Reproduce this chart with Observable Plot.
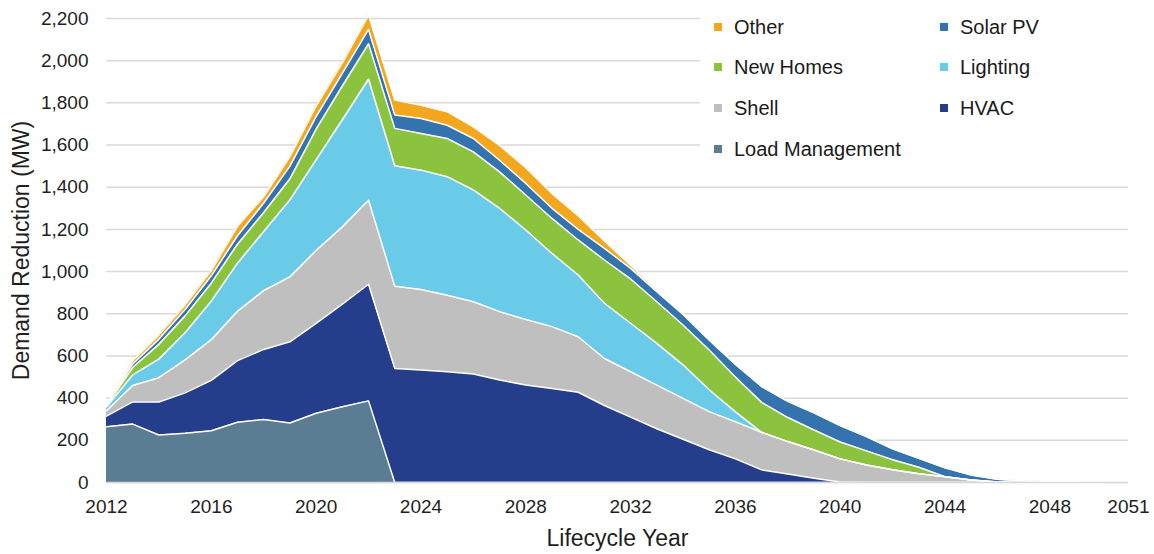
<!DOCTYPE html>
<html>
<head>
<meta charset="utf-8">
<script src="https://cdn.jsdelivr.net/npm/d3@7"></script>
<script src="https://cdn.jsdelivr.net/npm/@observablehq/plot@0.6"></script>
<style>
  body { margin: 0; background: #fff; }
  #wrap { position: relative; width: 1154px; height: 554px; font-family: "Liberation Sans", Arial, sans-serif; }
  #legend { position: absolute; left: 700px; top: 2px; width: 428px; height: 166px; background: #fff; }
  .item { position: absolute; height: 24px; display: flex; align-items: center; font-size: 20px; color: #1a1a1a; white-space: nowrap; }
  .sw { width: 8px; height: 8px; margin-right: 12px; flex: none; }
</style>
</head>
<body>
<div id="wrap"><div id="legend"></div></div>
<script>
// ---- Data (MW, per series, one value per year) ----
const years = [2012,2013,2014,2015,2016,2017,2018,2019,2020,2021,2022,2023,2024,2025,2026,2027,2028,2029,2030,2031,2032,2033,2034,2035,2036,2037,2038,2039,2040,2041,2042,2043,2044,2045,2046,2047,2048,2049,2050];

const loadManagement = [264,277,225,233,245,286,299,282,328,359,387, 0,0,0,0,0,0,0,0, 0,0,0,0,0,0,0,0,0,0, 0,0,0,0,0,0,0,0,0,0];
const hvac           = [51,105,157,192,239,292,332,385,426,487,553, 541,533,525,514,486,462,446,428, 365,310,255,205,155,112,60,40,20,2, 0,0,0,0,0,0,0,0,0,0];
const shell          = [25,78,115,156,193,234,279,308,346,366,398, 390,382,363,343,324,311,293,263, 223,215,207,194,181,176,178,154,134,110, 83,60,42,27,12,2,0,0,0,0];
const lighting       = [18,50,88,129,183,228,280,365,430,508,574, 571,566,562,530,490,424,347,293, 262,230,198,159,104,47,0,0,0,0, 0,0,0,0,0,0,0,0,0,0];
const newHomes       = [5,35,70,80,85,90,90,100,145,160,168, 177,174,181,181,173,166,166,166, 205,210,197,189,188,165,142,114,95,80, 67,48,30,0,0,0,0,0,0,0];
const solarPV        = [3,17,25,30,35,40,45,60,60,60,68, 63,71,63,63,55,55,48,50, 55,50,48,50,47,60,75,77,81,78, 68,52,43,43,24,13,8,4,2,0];
const other          = [2,16,20,22,25,45,30,45,50,50,68, 71,63,64,55,70,75,70,65, 35,15,7,3,3,2,1,0,0,0, 0,0,0,0,0,0,0,0,0,0];

const seriesNames = ["Load Management","HVAC","Shell","Lighting","New Homes","Solar PV","Other"];
const seriesValues = [loadManagement, hvac, shell, lighting, newHomes, solarPV, other];
const seriesColors = ["#5b7d93","#253e8c","#bfbfbf","#69cbe8","#8bc33f","#3473ad","#f4a71d"];

const xTicks = [2012,2016,2020,2024,2028,2032,2036,2040,2044,2048,2051];
const yTicks = [0,200,400,600,800,1000,1200,1400,1600,1800,2000,2200];

const legendCols = [["Other","New Homes","Shell","Load Management"],["Solar PV","Lighting","HVAC"]];

// ---- Build tidy rows ----
const rows = [];
seriesNames.forEach((name, k) => {
  years.forEach((yr, i) => rows.push({year: yr, series: name, value: seriesValues[k][i]}));
});

const font = "'Liberation Sans', Arial, sans-serif";

const chart = Plot.plot({
  width: 1154,
  height: 554,
  marginLeft: 106,
  marginRight: 26,
  marginTop: 18,
  marginBottom: 72,
  style: {fontFamily: font, fontSize: "19px", color: "#1f1f1f", background: "#fff"},
  x: {domain: [2012, 2051]},
  y: {domain: [0, 2200]},
  color: {domain: seriesNames, range: seriesColors},
  marks: [
    Plot.gridY(yTicks, {stroke: "#d9d9d9", strokeOpacity: 1, strokeWidth: 1.5}),
    Plot.areaY(rows, {x: "year", y: "value", z: "series", fill: "series", order: seriesNames}),
    Plot.lineY(rows, Plot.stackY2({x: "year", y: "value", z: "series", order: seriesNames, stroke: "white", strokeWidth: 1.5})),
    Plot.ruleY([0], {stroke: "#d9d9d9", strokeWidth: 1.5}),
    Plot.axisX({ticks: xTicks, tickFormat: d => String(d), tickSize: 0, tickPadding: 17, fontSize: 19, label: null}),
    Plot.axisX({ticks: [], label: "Lifecycle Year", labelAnchor: "center", labelOffset: 63, labelArrow: false, fontSize: 23}),
    Plot.axisY({ticks: yTicks, tickFormat: d3.format(","), tickSize: 0, tickPadding: 18, fontSize: 19, label: null}),
    Plot.axisY({ticks: [], label: "Demand Reduction (MW)", labelAnchor: "center", labelOffset: 94, labelArrow: false, fontSize: 23})
  ]
});

const wrap = document.getElementById("wrap");
wrap.insertBefore(chart, wrap.firstChild);

// ---- Legend (inside chart, top right) ----
const legend = document.getElementById("legend");
const colLeft = [14, 240];
const rowTop = [13, 53, 94, 135];
legendCols.forEach((col, c) => {
  col.forEach((name, r) => {
    const it = document.createElement("div");
    it.className = "item";
    it.style.left = colLeft[c] + "px";
    it.style.top = rowTop[r] + "px";
    const sw = document.createElement("span");
    sw.className = "sw";
    sw.style.background = seriesColors[seriesNames.indexOf(name)];
    const tx = document.createElement("span");
    tx.textContent = name;
    it.appendChild(sw); it.appendChild(tx);
    legend.appendChild(it);
  });
});
</script>
</body>
</html>
